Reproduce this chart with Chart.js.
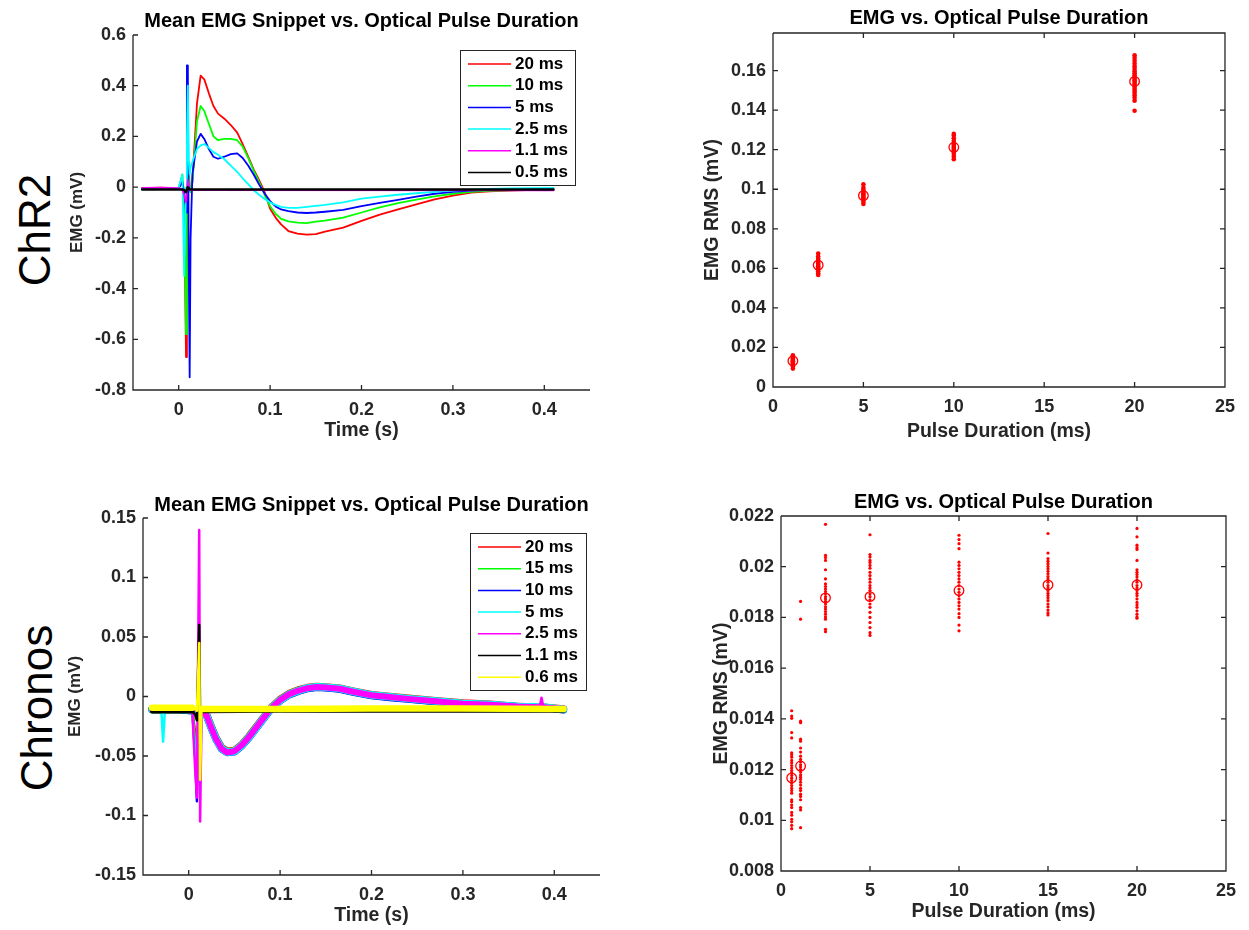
<!DOCTYPE html>
<html>
<head>
<meta charset="utf-8">
<script src="https://cdn.jsdelivr.net/npm/chart.js@4.4.0/dist/chart.umd.min.js"></script>
<style>
  body { margin: 0; background: #fff; }
  #fig { position: relative; width: 1249px; height: 930px; background: #fff; overflow: hidden; }
  #fig canvas { position: absolute; }
  .side { position: absolute; font-family: "Liberation Sans", Arial, sans-serif; font-size: 44px; color: #000;
          transform: translate(-50%, -50%) rotate(-90deg); white-space: nowrap; }
</style>
</head>
<body>
<div id="fig">
  <div class="side" style="left:35px;top:230px">ChR2</div>
  <div class="side" style="left:37px;top:708px">Chronos</div>
  <canvas id="c1" width="605" height="450" style="left:0px;top:0px"></canvas>
  <canvas id="c2" width="624" height="450" style="left:620px;top:0px"></canvas>
  <canvas id="c3" width="615" height="450" style="left:0px;top:480px"></canvas>
  <canvas id="c4" width="615" height="450" style="left:630px;top:480px"></canvas>
</div>
<script>
// ---- ChR2: mean EMG snippets (time in s, EMG in mV) ----
const tChR2 = [-0.04, -0.02, 0.0, 0.004, 0.006, 0.008, 0.009, 0.010, 0.011, 0.012, 0.013, 0.015, 0.02, 0.024, 0.028,
  0.033, 0.038, 0.043, 0.05, 0.057, 0.064, 0.07, 0.076, 0.082, 0.088, 0.094, 0.1, 0.106, 0.112, 0.12, 0.13, 0.14,
  0.15, 0.16, 0.18, 0.2, 0.22, 0.24, 0.26, 0.28, 0.3, 0.32, 0.34, 0.36, 0.38, 0.41];
const emgChR2_20 = [-0.004, -0.002, -0.004, 0.02, -0.05, -0.67, -0.1, 0.0, 0.05, 0.0, -0.02, 0.02, 0.33, 0.44, 0.425,
  0.37, 0.32, 0.29, 0.27, 0.245, 0.215, 0.17, 0.12, 0.07, 0.028, -0.02, -0.085, -0.12, -0.147, -0.173, -0.183, -0.187,
  -0.185, -0.175, -0.16, -0.133, -0.108, -0.088, -0.068, -0.048, -0.033, -0.022, -0.017, -0.014, -0.012, -0.01];
const emgChR2_10 = [-0.004, -0.003, -0.003, 0.05, -0.05, -0.58, -0.1, 0.05, 0.1, 0.0, -0.02, 0.02, 0.26, 0.32, 0.3,
  0.25, 0.2, 0.185, 0.19, 0.19, 0.185, 0.16, 0.115, 0.065, 0.02, -0.03, -0.075, -0.105, -0.125, -0.135, -0.14, -0.142,
  -0.136, -0.132, -0.12, -0.1, -0.08, -0.063, -0.049, -0.036, -0.026, -0.019, -0.015, -0.013, -0.011, -0.01];
const emgChR2_5 = [-0.003, -0.004, -0.003, 0.02, -0.02, -0.1, 0.48, 0.48, -0.3, -0.75, -0.2, 0.05, 0.18, 0.21, 0.19,
  0.15, 0.12, 0.112, 0.12, 0.13, 0.133, 0.115, 0.085, 0.05, 0.01, -0.025, -0.055, -0.076, -0.088, -0.095, -0.1, -0.102,
  -0.1, -0.097, -0.09, -0.075, -0.062, -0.05, -0.037, -0.026, -0.019, -0.014, -0.011, -0.009, -0.008, -0.007];
const emgChR2_2p5 = [-0.003, -0.003, -0.002, 0.05, -0.35, 0.0, 0.2, 0.4, 0.1, 0.05, 0.08, 0.1, 0.15, 0.165, 0.17,
  0.155, 0.138, 0.128, 0.11, 0.085, 0.06, 0.035, 0.012, -0.012, -0.03, -0.047, -0.06, -0.07, -0.078, -0.082, -0.082,
  -0.078, -0.074, -0.07, -0.06, -0.045, -0.037, -0.03, -0.024, -0.019, -0.014, -0.01, -0.007, -0.005, -0.004, -0.003];
const tChR2Flat = [-0.04, -0.02, 0.0, 0.004, 0.006, 0.008, 0.01, 0.012, 0.014, 0.41];
const emgChR2_1p1 = [-0.003, -0.002, -0.004, -0.01, -0.03, -0.06, 0.03, -0.012, -0.012, -0.013];
const emgChR2_0p5 = [-0.009, -0.009, -0.009, -0.009, -0.012, -0.02, 0.0, -0.009, -0.009, -0.009];
const labelsChR2 = ['20 ms', '10 ms', '5 ms', '2.5 ms', '1.1 ms', '0.5 ms'];

// ---- Chronos: mean EMG snippets ----
const tChronos = [-0.04, -0.03, -0.028, -0.026, -0.01, 0.004, 0.007, 0.009, 0.0115, 0.0125, 0.014, 0.018, 0.024, 0.03,
  0.036, 0.042, 0.05, 0.058, 0.066, 0.074, 0.082, 0.09, 0.1, 0.11, 0.12, 0.13, 0.14, 0.15, 0.165, 0.18, 0.2, 0.22,
  0.24, 0.27, 0.3, 0.33, 0.36, 0.384, 0.386, 0.388, 0.41];
const emgChronos_20 = [-0.0105, -0.0105, -0.0105, -0.0105, -0.0105, -0.0115, -0.03, -0.05, 0.0, -0.04, -0.013, -0.012,
  -0.024, -0.035, -0.043, -0.046, -0.0455, -0.0405, -0.0335, -0.0255, -0.0175, -0.0095, -0.0025, 0.0025, 0.0055,
  0.0075, 0.0085, 0.008, 0.007, 0.0045, 0.0015, 0.0, -0.0015, -0.0035, -0.0055, -0.0065, -0.0085, -0.009, -0.009,
  -0.009, -0.0105];
const emgChronos_15 = [-0.0112, -0.0112, -0.0112, -0.0112, -0.0112, -0.012, -0.04, -0.06, 0.01, -0.05, -0.014, -0.013,
  -0.0245, -0.0355, -0.0435, -0.0465, -0.046, -0.041, -0.034, -0.026, -0.018, -0.01, -0.003, 0.002, 0.005, 0.007,
  0.008, 0.0075, 0.0065, 0.004, 0.001, -0.0005, -0.002, -0.004, -0.006, -0.007, -0.0085, -0.009, -0.009, -0.009, -0.011];
const emgChronos_10 = [-0.011, -0.011, -0.011, -0.011, -0.011, -0.012, -0.05, -0.088, 0.02, -0.06, -0.014, -0.013,
  -0.025, -0.036, -0.044, -0.047, -0.0465, -0.0415, -0.0345, -0.0265, -0.0185, -0.0105, -0.0035, 0.0015, 0.0045,
  0.0068, 0.0078, 0.0073, 0.0063, 0.0038, 0.0008, -0.0008, -0.0022, -0.0042, -0.0062, -0.0072, -0.0087, -0.0092,
  -0.0092, -0.0092, -0.0112];
const emgChronos_5 = [-0.0108, -0.0108, -0.038, -0.0108, -0.0108, -0.012, -0.045, -0.07, 0.03, -0.07, -0.014, -0.013,
  -0.0248, -0.0358, -0.0438, -0.0468, -0.0462, -0.0412, -0.0342, -0.0262, -0.0182, -0.0102, -0.0032, 0.0018, 0.0048,
  0.0072, 0.0082, 0.0077, 0.0067, 0.0042, 0.0012, -0.0003, -0.0018, -0.0038, -0.0058, -0.0068, -0.0083, -0.0088,
  -0.0088, -0.0088, -0.0108];
const emgChronos_2p5 = [-0.011, -0.011, -0.011, -0.011, -0.011, -0.012, -0.06, -0.085, 0.14, -0.105, -0.015, -0.013,
  -0.025, -0.036, -0.044, -0.047, -0.046, -0.041, -0.034, -0.026, -0.018, -0.01, -0.003, 0.002, 0.005, 0.007, 0.008,
  0.0075, 0.0065, 0.004, 0.001, -0.0005, -0.002, -0.004, -0.006, -0.007, -0.0085, -0.009, -0.001, -0.009, -0.0105];
const tChronosFlat = [-0.04, 0.004, 0.007, 0.009, 0.0115, 0.0125, 0.014, 0.1, 0.2, 0.3, 0.41];
const emgChronos_1p1 = [-0.0125, -0.0125, -0.015, -0.02, 0.06, -0.02, -0.0125, -0.012, -0.012, -0.012, -0.012];
const emgChronos_0p6 = [-0.0095, -0.0095, -0.01, -0.012, 0.045, -0.07, -0.0105, -0.0105, -0.01, -0.01, -0.0105];
const labelsChronos = ['20 ms', '15 ms', '10 ms', '5 ms', '2.5 ms', '1.1 ms', '0.6 ms'];

// ---- RMS vs pulse duration (ms, mV) ----
const pulseChR2 = [1.1, 2.5, 5, 10, 20];
const meanChR2 = [0.0132, 0.0616, 0.0968, 0.1212, 0.1545];
const trialsChR2_1p1 = [0.0093, 0.0105, 0.0112, 0.0118, 0.0122, 0.0126, 0.013, 0.0134, 0.0138, 0.0143, 0.0148, 0.0155, 0.016];
const trialsChR2_2p5 = [0.0566, 0.0575, 0.0585, 0.0595, 0.0603, 0.061, 0.0617, 0.0624, 0.0632, 0.064, 0.065, 0.066, 0.0675];
const trialsChR2_5 = [0.0925, 0.0935, 0.0945, 0.0953, 0.096, 0.0967, 0.0973, 0.098, 0.0988, 0.0997, 0.1008, 0.1025];
const trialsChR2_10 = [0.1152, 0.1165, 0.1178, 0.1188, 0.1196, 0.1204, 0.1211, 0.1218, 0.1226, 0.1235, 0.1245, 0.1258, 0.1272, 0.128];
const trialsChR2_20 = [0.1397, 0.1448, 0.1462, 0.1475, 0.1488, 0.1498, 0.1508, 0.1518, 0.1527, 0.1535, 0.1543, 0.1551,
  0.1559, 0.1567, 0.1576, 0.1586, 0.1597, 0.1609, 0.1622, 0.1636, 0.165, 0.1664, 0.1677];

const pulseChronos = [0.6, 1.1, 2.5, 5, 10, 15, 20];
const meanChronos = [0.01167, 0.01214, 0.01877, 0.01882, 0.01906, 0.01928, 0.01928];
const trialsChronos_0p6 = [0.01432, 0.01411, 0.01402, 0.01346, 0.01325, 0.01266, 0.01258, 0.01249, 0.01236, 0.01227,
  0.01216, 0.01206, 0.01196, 0.01187, 0.01177, 0.01166, 0.01157, 0.01147, 0.01137, 0.01126, 0.01117, 0.01107, 0.01081,
  0.01073, 0.0106, 0.0105, 0.01031, 0.0102, 0.01004, 0.00994, 0.0098, 0.00967];
const trialsChronos_1p1 = [0.01863, 0.01793, 0.01391, 0.01385, 0.0132, 0.01312, 0.01285, 0.01269, 0.01253, 0.0124, 0.0123,
  0.01219, 0.0121, 0.012, 0.0119, 0.01179, 0.0117, 0.01161, 0.0115, 0.01139, 0.01126, 0.01117, 0.01103, 0.01094,
  0.01081, 0.0105, 0.01041, 0.00971];
const trialsChronos_2p5 = [0.02167, 0.02045, 0.02036, 0.02025, 0.01988, 0.01952, 0.01932, 0.01922, 0.01912, 0.01902,
  0.01893, 0.01882, 0.01873, 0.01863, 0.01853, 0.01842, 0.01833, 0.01823, 0.01813, 0.01802, 0.01793, 0.01753, 0.01744];
const trialsChronos_5 = [0.02126, 0.02048, 0.02038, 0.02025, 0.02017, 0.02005, 0.01994, 0.01978, 0.01965, 0.01952,
  0.01939, 0.01926, 0.01916, 0.01906, 0.01893, 0.01882, 0.01869, 0.01853, 0.0184, 0.0182, 0.018, 0.0178, 0.0176,
  0.0174, 0.01729];
const trialsChronos_10 = [0.02124, 0.02107, 0.02091, 0.02071, 0.02018, 0.02005, 0.01992, 0.01978, 0.01965, 0.01952,
  0.01939, 0.01926, 0.01912, 0.01899, 0.01886, 0.01873, 0.01859, 0.01846, 0.01833, 0.01815, 0.018, 0.0177, 0.01747];
const trialsChronos_15 = [0.02131, 0.02054, 0.02032, 0.02022, 0.02012, 0.02001, 0.01992, 0.01982, 0.01972, 0.01961,
  0.01952, 0.01939, 0.01926, 0.01916, 0.01906, 0.01895, 0.01886, 0.01877, 0.01866, 0.01853, 0.01842, 0.01829,
  0.01818, 0.0181];
const trialsChronos_20 = [0.02151, 0.02118, 0.02085, 0.02075, 0.02068, 0.02025, 0.01988, 0.01978, 0.01969, 0.01959,
  0.01948, 0.01939, 0.01926, 0.01916, 0.01906, 0.01895, 0.01886, 0.01873, 0.01859, 0.0185, 0.0184, 0.01826, 0.01813,
  0.01802, 0.01797];

// ---- tick values ----
const xTicksTime = [0, 0.1, 0.2, 0.3, 0.4];
const yTicksChR2 = [-0.8, -0.6, -0.4, -0.2, 0, 0.2, 0.4, 0.6];
const yTicksChronos = [-0.15, -0.1, -0.05, 0, 0.05, 0.1, 0.15];
const xTicksPulse = [0, 5, 10, 15, 20, 25];
const yTicksRmsChR2 = [0, 0.02, 0.04, 0.06, 0.08, 0.1, 0.12, 0.14, 0.16];
const yTicksRmsChronos = [0.008, 0.01, 0.012, 0.014, 0.016, 0.018, 0.02, 0.022];

const FONT = '"Liberation Sans", Arial, Helvetica, sans-serif';
const AX = '#262626';
const fmt = v => String(parseFloat(Number(v).toFixed(6)));

// MATLAB style axes: left/bottom lines (box optional) with inward ticks
const matlabAxes = {
  id: 'matlabAxes',
  afterDatasetsDraw(chart, args, opts) {
    const { ctx, chartArea: a, scales: { x, y } } = chart;
    const tl = 5;
    ctx.save();
    ctx.strokeStyle = AX;
    ctx.lineWidth = 1.3;
    ctx.beginPath();
    ctx.moveTo(a.left, a.top); ctx.lineTo(a.left, a.bottom); ctx.lineTo(a.right, a.bottom);
    if (opts.box) { ctx.lineTo(a.right, a.top); ctx.lineTo(a.left, a.top); }
    x.ticks.forEach(t => {
      const px = x.getPixelForValue(t.value);
      ctx.moveTo(px, a.bottom); ctx.lineTo(px, a.bottom - tl);
      if (opts.box) { ctx.moveTo(px, a.top); ctx.lineTo(px, a.top + tl); }
    });
    y.ticks.forEach(t => {
      const py = y.getPixelForValue(t.value);
      ctx.moveTo(a.left, py); ctx.lineTo(a.left + tl, py);
      if (opts.box) { ctx.moveTo(a.right, py); ctx.lineTo(a.right - tl, py); }
    });
    ctx.stroke();
    ctx.restore();
  }
};

// boxed legend drawn inside the plot area (top right)
const matlabLegend = {
  id: 'matlabLegend',
  afterDraw(chart, args, o) {
    if (!o.display) return;
    const { ctx, chartArea: a } = chart;
    const x0 = a.right - o.right - o.width, y0 = a.top + o.top;
    ctx.save();
    ctx.fillStyle = '#fff';
    ctx.fillRect(x0, y0, o.width, o.height);
    ctx.strokeStyle = AX;
    ctx.lineWidth = 1;
    ctx.strokeRect(x0 + 0.5, y0 + 0.5, o.width, o.height);
    ctx.font = 'bold 17px ' + FONT;
    ctx.textBaseline = 'middle';
    chart.data.datasets.forEach((ds, i) => {
      const ry = y0 + o.firstRow + i * o.rowH;
      ctx.strokeStyle = ds.borderColor;
      ctx.lineWidth = 1.5;
      ctx.beginPath();
      ctx.moveTo(x0 + o.lineX, ry); ctx.lineTo(x0 + o.lineX + o.lineLen, ry);
      ctx.stroke();
      ctx.fillStyle = '#000';
      ctx.fillText(ds.label, x0 + o.textX, ry);
    });
    ctx.restore();
  }
};
Chart.register(matlabAxes, matlabLegend);

// thinGap: segments shorter than this (in s) are spikes, drawn thin
function lineSets(series, labels, colors, widths, thinGap) {
  return series.map(([t, vals], i) => ({
    label: labels[i],
    data: vals.map((v, k) => ({ x: t[k], y: v })),
    borderColor: colors[i], borderWidth: widths[i],
    borderJoinStyle: 'round', borderCapStyle: 'round',
    segment: thinGap ? { borderWidth: c => (c.p1.parsed.x - c.p0.parsed.x <= thinGap ? 2.5 : undefined) } : undefined,
    pointRadius: 0, tension: 0, order: series.length - i
  }));
}

function scatterSets(pulses, trials, means, dotR) {
  const pts = [];
  trials.forEach((vals, i) => vals.forEach(v => pts.push({ x: pulses[i], y: v })));
  return [
    { data: pts, pointRadius: dotR, pointBackgroundColor: '#ff0000', pointBorderWidth: 0, showLine: false },
    { data: means.map((m, i) => ({ x: pulses[i], y: m })), pointRadius: 4.8, pointBorderColor: '#ff0000',
      pointBackgroundColor: 'rgba(0,0,0,0)', pointBorderWidth: 1.3, showLine: false }
  ];
}

// p: canvas box (left, top, w, h) and target plot area (L, T, R, B) in page pixels
function panelOptions(p) {
  const tickFont = { family: FONT, size: 18, weight: 'bold', lineHeight: 1.2 };
  const labFont = { family: FONT, size: 19.5, weight: 'bold', lineHeight: 1.2 };
  const yLabFont = { family: FONT, size: p.yLabelSize || 19.5, weight: 'bold', lineHeight: 1.2 };
  const tTop = p.titleY - p.top - 12;
  return {
    responsive: false, animation: false, events: [],
    layout: { padding: { left: 0, top: 0, bottom: 0, right: p.w - (p.R - p.left) } },
    plugins: {
      legend: { display: false }, tooltip: { enabled: false },
      title: { display: true, text: p.title, fullSize: false, color: '#000',
        font: { family: FONT, size: 20, weight: 'bold', lineHeight: 1.2 },
        padding: { top: tTop, bottom: (p.T - p.top) - 24 - tTop } },
      matlabAxes: { box: p.box },
      matlabLegend: p.legend || { display: false }
    },
    scales: {
      x: {
        type: 'linear', min: p.xMin, max: p.xMax,
        afterBuildTicks: s => { s.ticks = p.xTicks.map(v => ({ value: v })); },
        afterFit: s => { s.height = p.top + p.h - p.B; },
        grid: { display: false, drawTicks: false }, border: { display: false },
        ticks: { padding: 9, color: AX, font: tickFont, callback: fmt, maxRotation: 0, autoSkip: false },
        title: { display: true, text: p.xLabel, color: AX, font: labFont,
          padding: { top: 0, bottom: p.top + p.h - p.xLabelY - 11.7 } }
      },
      y: {
        type: 'linear', min: p.yMin, max: p.yMax,
        afterBuildTicks: s => { s.ticks = p.yTicks.map(v => ({ value: v })); },
        afterFit: s => { s.width = p.L - p.left; },
        grid: { display: false, drawTicks: false }, border: { display: false },
        ticks: { padding: 7, color: AX, font: tickFont, callback: fmt, autoSkip: false },
        title: { display: true, text: p.yLabel, color: AX, font: yLabFont,
          padding: { top: p.yLabelX - p.left - yLabFont.size * 0.6, bottom: 0 } }
      }
    }
  };
}

const titleSnip = 'Mean EMG Snippet vs. Optical Pulse Duration';
const titleRms = 'EMG vs. Optical Pulse Duration';

// top left: ChR2 snippets
new Chart(document.getElementById('c1'), {
  type: 'line',
  data: { datasets: lineSets(
    [[tChR2, emgChR2_20], [tChR2, emgChR2_10], [tChR2, emgChR2_5], [tChR2, emgChR2_2p5],
     [tChR2Flat, emgChR2_1p1], [tChR2Flat, emgChR2_0p5]],
    labelsChR2,
    ['#ff0000', '#00ff00', '#0000ff', '#00ffff', '#ff00ff', '#000000'],
    [1.8, 1.8, 1.8, 1.8, 1.8, 2.5]) },
  options: panelOptions({ left: 0, top: 0, w: 605, h: 450, L: 133, T: 35, R: 590, B: 390,
    titleY: 21, xLabelY: 431, yLabelX: 77, yLabelSize: 17, title: titleSnip, xLabel: 'Time (s)', yLabel: 'EMG (mV)',
    xMin: -0.05, xMax: 0.45, xTicks: xTicksTime, yMin: -0.8, yMax: 0.6, yTicks: yTicksChR2, box: false,
    legend: { display: true, right: 15, top: 15, width: 115, height: 135, firstRow: 14, rowH: 21.7,
      lineX: 8, lineLen: 43, textX: 55 } })
});

// top right: ChR2 RMS
new Chart(document.getElementById('c2'), {
  type: 'scatter',
  data: { datasets: scatterSets(pulseChR2,
    [trialsChR2_1p1, trialsChR2_2p5, trialsChR2_5, trialsChR2_10, trialsChR2_20], meanChR2, 2.3) },
  options: panelOptions({ left: 620, top: 0, w: 624, h: 450, L: 773, T: 33, R: 1229, B: 387,
    titleY: 18, xLabelY: 432, yLabelX: 713, title: titleRms, xLabel: 'Pulse Duration (ms)', yLabel: 'EMG RMS (mV)',
    xMin: 0, xMax: 25, xTicks: xTicksPulse, yMin: 0, yMax: 0.179, yTicks: yTicksRmsChR2, box: true })
});

// bottom left: Chronos snippets
new Chart(document.getElementById('c3'), {
  type: 'line',
  data: { datasets: lineSets(
    [[tChronos, emgChronos_20], [tChronos, emgChronos_15], [tChronos, emgChronos_10], [tChronos, emgChronos_5],
     [tChronos, emgChronos_2p5], [tChronosFlat, emgChronos_1p1], [tChronosFlat, emgChronos_0p6]],
    labelsChronos,
    ['#ff0000', '#00ff00', '#0000ff', '#00ffff', '#ff00ff', '#000000', '#ffff00'],
    [7.5, 7.5, 7.5, 7.5, 6, 4, 6.5], 0.0031) },
  options: panelOptions({ left: 0, top: 480, w: 615, h: 450, L: 143, T: 518, R: 600, B: 875,
    titleY: 505, xLabelY: 916, yLabelX: 75, yLabelSize: 17, title: titleSnip, xLabel: 'Time (s)', yLabel: 'EMG (mV)',
    xMin: -0.05, xMax: 0.45, xTicks: xTicksTime, yMin: -0.15, yMax: 0.15, yTicks: yTicksChronos, box: false,
    legend: { display: true, right: 14, top: 15, width: 116, height: 157, firstRow: 14, rowH: 21.7,
      lineX: 8, lineLen: 43, textX: 55 } })
});

// bottom right: Chronos RMS
new Chart(document.getElementById('c4'), {
  type: 'scatter',
  data: { datasets: scatterSets(pulseChronos,
    [trialsChronos_0p6, trialsChronos_1p1, trialsChronos_2p5, trialsChronos_5, trialsChronos_10,
     trialsChronos_15, trialsChronos_20], meanChronos, 1.6) },
  options: panelOptions({ left: 630, top: 480, w: 615, h: 450, L: 781, T: 516, R: 1230, B: 871,
    titleY: 502, xLabelY: 912, yLabelX: 722, title: titleRms, xLabel: 'Pulse Duration (ms)', yLabel: 'EMG RMS (mV)',
    xMin: 0, xMax: 25, xTicks: xTicksPulse, yMin: 0.008, yMax: 0.022, yTicks: yTicksRmsChronos, box: true })
});
</script>
</body>
</html>
